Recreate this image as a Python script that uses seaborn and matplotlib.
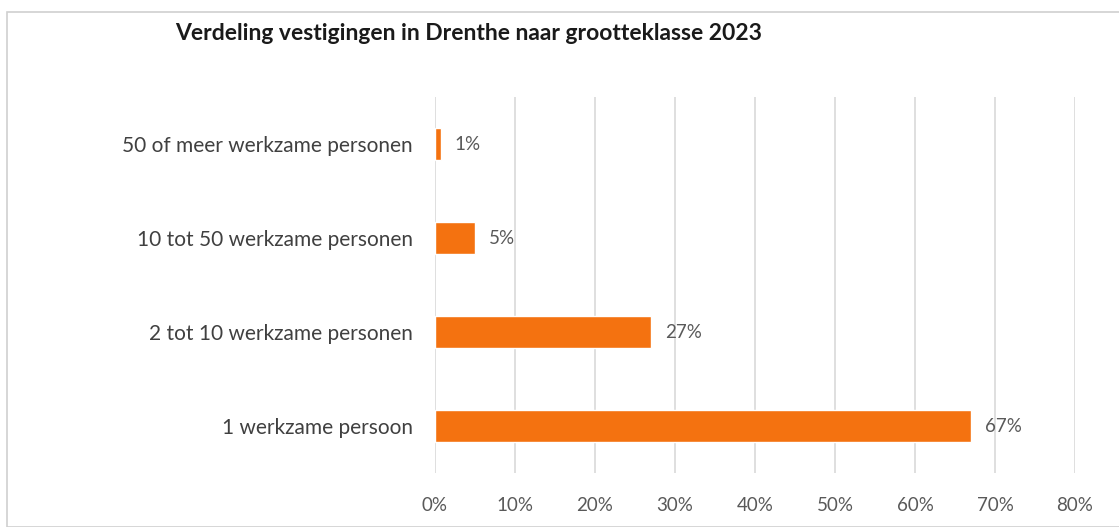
import matplotlib
matplotlib.use("Agg")
import matplotlib.pyplot as plt
import pandas as pd
import seaborn as sns
from matplotlib.patches import Rectangle
from matplotlib.ticker import PercentFormatter

categories = [
    "50 of meer werkzame personen",
    "10 tot 50 werkzame personen",
    "2 tot 10 werkzame personen",
    "1 werkzame persoon",
]
shares = [0.75, 5.0, 27.0, 67.0]
labels = ["1%", "5%", "27%", "67%"]
title = "Verdeling vestigingen in Drenthe naar grootteklasse 2023"

ORANGE = "#F47210"
TEXT = "#595959"
GRID = "#D9D9D9"

sns.set_theme(style="white")
plt.rcParams["font.family"] = ["Lato", "DejaVu Sans"]

df = pd.DataFrame({"category": categories, "share": shares})

fig = plt.figure(figsize=(11.19, 5.27), dpi=100)
ax = fig.add_axes([435 / 1119, 1 - 473 / 527, 640 / 1119, 376 / 527])

sns.barplot(data=df, x="share", y="category", color=ORANGE, width=0.34,
            saturation=1, ax=ax)

for container in ax.containers:
    ax.bar_label(container, labels=labels, padding=10, color=TEXT, fontsize=13.5)

ax.set_xlim(0, 80)
ax.set_xticks(range(0, 81, 10))
ax.xaxis.set_major_formatter(PercentFormatter(decimals=0))
ax.grid(axis="x", color=GRID, linewidth=1.2)
ax.set_axisbelow(True)
for s in ax.spines.values():
    s.set_visible(False)
ax.set_xlabel("")
ax.set_ylabel("")
ax.tick_params(axis="x", length=0, pad=17, labelsize=13.5, labelcolor=TEXT)
ax.tick_params(axis="y", length=0, pad=16, labelsize=15, labelcolor="#404040")

fig.text(175 / 1119, 1 - 33 / 527, title, fontsize=16.5, fontweight="bold",
         color="#1a1a1a", va="center", ha="left")

fig.patches.append(Rectangle((7 / 1119, 0), 1.2, 1 - 12 / 527, transform=fig.transFigure,
                             fill=False, edgecolor="#D0D0D0", linewidth=1.2))

fig.savefig("out.png", dpi=100)
